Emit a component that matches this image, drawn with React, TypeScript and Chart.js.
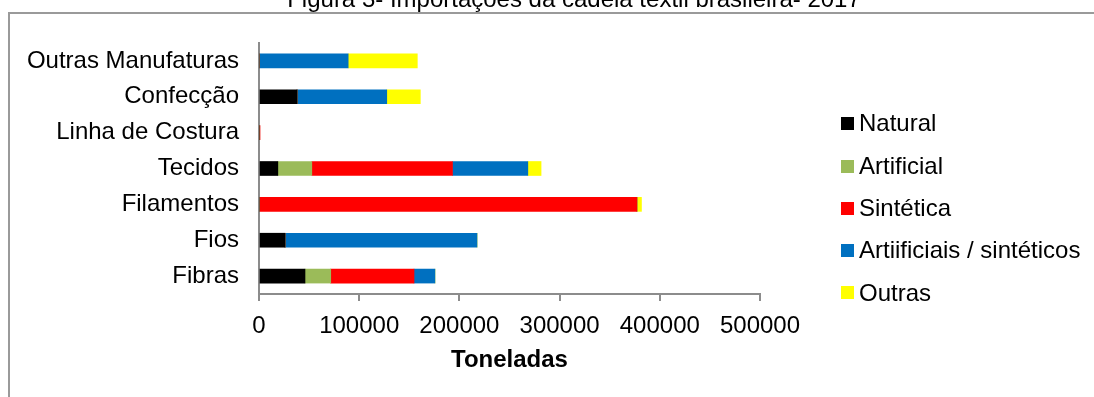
import React, { useEffect, useRef } from "react";
import { Chart, registerables } from "chart.js";

Chart.register(...registerables);

const titleText = "Figura 3- Importações da cadeia têxtil brasileira- 2017";
const axisTitle = "Toneladas";
const categories = [
  "Outras Manufaturas",
  "Confecção",
  "Linha de Costura",
  "Tecidos",
  "Filamentos",
  "Fios",
  "Fibras",
];
const seriesNames = ["Natural", "Artificial", "Sintética", "Artiificiais / sintéticos", "Outras"];
const natural = [0, 38000, 0, 18800, 0, 26000, 45900];
const artificial = [0, 0, 0, 33900, 0, 0, 25700];
const sintetica = [0, 0, 700, 140400, 377200, 0, 83100];
const artSint = [89000, 89500, 0, 75200, 0, 191600, 20900];
const outras = [69000, 33500, 0, 13200, 4500, 0, 0];
const xTicks = [0, 100000, 200000, 300000, 400000, 500000];

const colors = ["#000000", "#9BBB59", "#FF0000", "#0070C0", "#FFFF00"];
const FONT = "'Liberation Sans', Arial, sans-serif";

const decorPlugin = {
  id: "decor",
  afterDraw(chart: any) {
    const ctx = chart.ctx;
    ctx.save();
    // frame
    ctx.fillStyle = "#9a9a9a";
    ctx.fillRect(8, 12, 1086, 2);
    ctx.fillRect(8, 12, 2, 385);
    // clipped title
    ctx.fillStyle = "#000000";
    ctx.font = `24px ${FONT}`;
    ctx.textAlign = "center";
    ctx.textBaseline = "alphabetic";
    ctx.fillText(titleText, 574, 7);
    // legend
    ctx.textAlign = "left";
    ctx.textBaseline = "middle";
    chart.data.datasets.forEach((ds: any, i: number) => {
      const yc = 123.7 + i * 42.3;
      ctx.fillStyle = ds.backgroundColor;
      ctx.fillRect(841, Math.round(yc - 6.5), 13, 13);
      ctx.fillStyle = "#000000";
      ctx.fillText(ds.label, 859, yc + 1);
    });
    ctx.restore();
  },
};

export default function App() {
  const ref = useRef<HTMLCanvasElement>(null);
  useEffect(() => {
    if (!ref.current) return;
    Chart.defaults.font.family = FONT;
    Chart.defaults.color = "#000000";
    const seriesData = [natural, artificial, sintetica, artSint, outras];
    const chart = new Chart(ref.current, {
      type: "bar",
      data: {
        labels: categories,
        datasets: seriesNames.map((name, i) => ({
          label: name,
          data: seriesData[i],
          backgroundColor: colors[i],
          borderWidth: 0,
          barThickness: 14,
        })),
      },
      options: {
        indexAxis: "y",
        animation: false,
        responsive: false,
        devicePixelRatio: 1,
        layout: { padding: { top: 43, right: 334, left: 0, bottom: 0 } },
        plugins: {
          legend: { display: false },
          title: { display: false },
          tooltip: { enabled: false },
        },
        scales: {
          x: {
            stacked: true,
            min: 0,
            max: 500000,
            afterBuildTicks: (scale: any) => {
              scale.ticks = xTicks.map((v) => ({ value: v }));
            },
            ticks: {
              font: { size: 24 },
              padding: 11,
              maxRotation: 0,
              callback: (v: any) => String(v),
            },
            grid: {
              drawOnChartArea: false,
              drawTicks: true,
              tickLength: 7,
              color: "#8c8c8c",
              lineWidth: 2,
            },
            border: { display: true, color: "#8c8c8c", width: 2 },
            title: {
              display: true,
              text: axisTitle,
              font: { size: 24, weight: "bold" },
              padding: { top: 0, bottom: 22 },
            },
            afterFit: (scale: any) => {
              scale.height = 103;
            },
          },
          y: {
            stacked: true,
            ticks: { font: { size: 24 }, padding: 20 },
            grid: { display: false, drawTicks: false },
            border: { display: true, color: "#8c8c8c", width: 2 },
            afterFit: (scale: any) => {
              scale.width = 259;
            },
          },
        },
      },
      plugins: [decorPlugin],
    });
    return () => chart.destroy();
  }, []);
  return (
    <div style={{ position: "fixed", left: 0, top: 0, width: 1094, height: 397, background: "#ffffff" }}>
      <canvas ref={ref} width={1094} height={397} style={{ width: 1094, height: 397, display: "block" }} />
    </div>
  );
}
